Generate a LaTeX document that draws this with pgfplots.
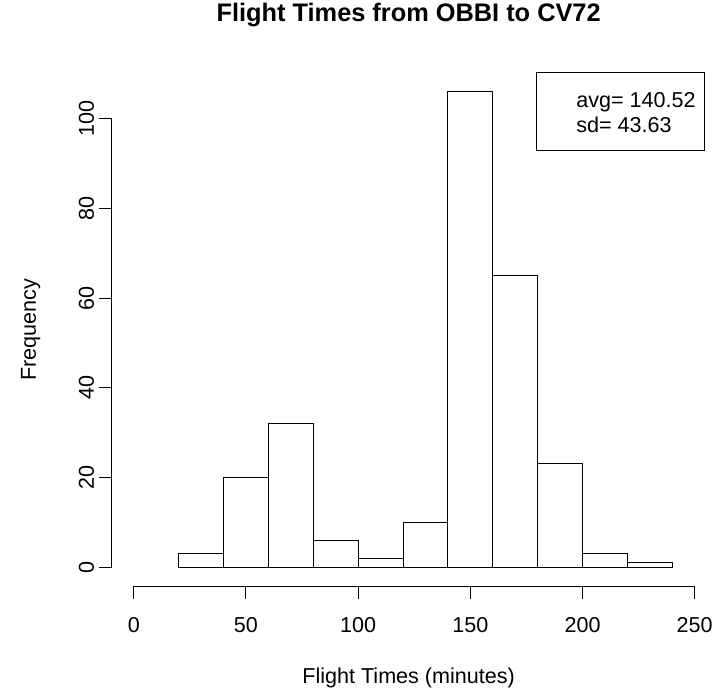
\documentclass[border=0pt]{standalone}
\usepackage{pgfplots}
\pgfplotsset{compat=1.18}
\usepackage{fontspec}
\setmainfont{Liberation Sans}

\newcommand{\rfont}{\fontsize{21.6}{26}\selectfont}

\begin{document}
\begin{tikzpicture}[x=1pt,y=1pt]
\begin{axis}[
  at={(112pt,107.3pt)}, anchor=south west,
  scale only axis, width=594.8pt, height=514pt,
  xmin=-9.8, xmax=254.8, ymin=-4.24, ymax=110.24,
  axis x line*=bottom, axis y line*=left,
  axis line style={draw=none},
  tick align=outside, major tick length=13pt,
  tick style={black, line width=1pt},
  xtick={0,50,...,250}, ytick={0,20,...,100},
  minor tick num=0,
  /pgf/number format/assume math mode=true,
  ticklabel style={font=\rfont},
  xticklabel style={anchor=base, yshift=-34pt},
  yticklabel style={xshift=-5pt, rotate=90, anchor=base},
  title={Flight Times from OBBI to CV72},
  title style={at={(axis description cs:0.5,1.0883)}, anchor=base,
    font=\bfseries\fontsize{25.4}{30}\selectfont},
  xlabel={Flight Times (minutes)},
  xlabel style={at={(axis description cs:0.5,-0.1893)}, anchor=base,
    font=\rfont},
  ylabel={Frequency},
  ylabel style={at={(axis description cs:-0.1278,0.5)}, anchor=base,
    font=\rfont},
  clip=false,
]
% histogram counts, bins of width 20 from 20 to 240
\addplot[ybar interval, draw=black, fill=white, line width=1pt] coordinates {
  (20,3) (40,20) (60,32) (80,6) (100,2) (120,10)
  (140,106) (160,65) (180,23) (200,3) (220,1) (240,1)
};
% R style axis lines from first to last tick
\draw[line width=1pt] (axis cs:0,-4.24) -- (axis cs:250,-4.24);
\draw[line width=1pt] (axis cs:-9.8,0) -- (axis cs:-9.8,100);
\end{axis}
% legend box
\draw[line width=1pt] (537.7,543.3) rectangle (705.7,621.3);
\node[anchor=base west, inner sep=0pt, font=\rfont] at (577.3,586.7) {avg= 140.52};
\node[anchor=base west, inner sep=0pt, font=\rfont] at (577.3,561.3) {sd= 43.63};
\path (0,0) rectangle (716,694);
\end{tikzpicture}
\end{document}
